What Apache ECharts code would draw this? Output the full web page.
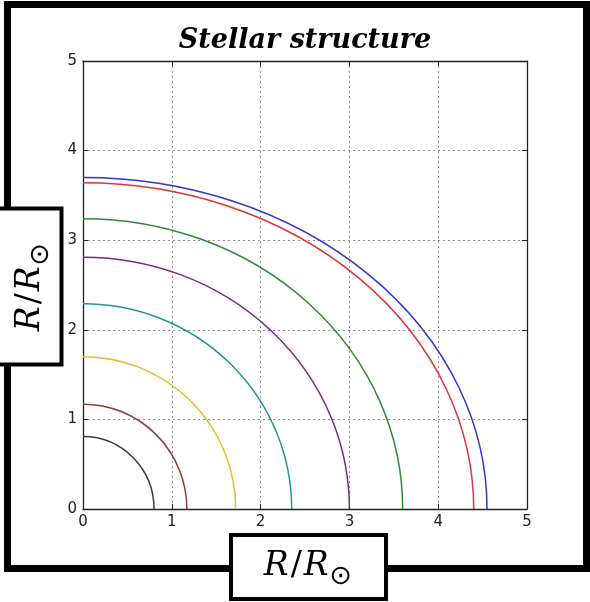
<!DOCTYPE html>
<html>
<head>
<meta charset="utf-8">
<script src="https://cdn.jsdelivr.net/npm/echarts@6/dist/echarts.min.js"></script>
<style>
  html, body { margin: 0; padding: 0; background: #fff; }
  #chart { width: 590px; height: 602px; }
</style>
</head>
<body>
<div id="chart"></div>
<script>
// Quarter-profile of each stellar model: horizontal and vertical radii (R / R_sun)
const xRadii = [4.55, 4.40, 3.60, 3.00, 2.35, 1.72, 1.17, 0.80];
const yRadii = [3.70, 3.64, 3.24, 2.81, 2.29, 1.70, 1.17, 0.81];
const curveColors = ['#3535c8', '#d8353a', '#2f8a38', '#7a2587', '#1d9696', '#f0b62c', '#8b3b3b', '#3a3a3a'];

const axisTicks = [0, 1, 2, 3, 4, 5];
const titleText = 'Stellar structure';

const profiles = xRadii.map((a, i) => [a, yRadii[i], i]);

const chart = echarts.init(document.getElementById('chart'), null, { renderer: 'canvas' });

const tickFont = { fontFamily: 'DejaVu Sans', fontSize: 15, color: '#222' };
const dotted = { show: true, lineStyle: { type: [2, 3], color: '#8f8f8f', width: 1 } };
const frameLine = { show: true, onZero: false, lineStyle: { color: '#222', width: 1.3 } };
const innerTick = { show: true, inside: true, length: 5, lineStyle: { color: '#222', width: 1 } };

// math-style axis label: italic R / R with a solar subscript
const labelRich = {
  r: { font: 'italic 33px "DejaVu Serif", "Liberation Serif", serif', fill: '#000', verticalAlign: 'bottom' },
  sl: { font: '33px "DejaVu Serif", "Liberation Serif", serif', fill: '#000', verticalAlign: 'bottom', padding: [0, 2, 0, 2] },
  s: { font: '27px "DejaVu Sans", sans-serif', fill: '#000', verticalAlign: 'bottom', padding: [0, 0, -8, 1] }
};
const labelText = '{r|R}{sl|/}{r|R}{s|⊙}';

chart.setOption({
  animation: false,
  backgroundColor: '#fff',
  grid: { left: 83, right: 63, top: 61, bottom: 93 },
  xAxis: [
    {
      type: 'value', min: axisTicks[0], max: axisTicks[axisTicks.length - 1], interval: 1,
      position: 'bottom', axisLine: frameLine, axisTick: innerTick,
      axisLabel: Object.assign({ margin: 6 }, tickFont), splitLine: dotted
    },
    {
      type: 'value', min: axisTicks[0], max: axisTicks[axisTicks.length - 1], interval: 1,
      position: 'top', axisLine: frameLine, axisTick: innerTick,
      axisLabel: { show: false }, splitLine: { show: false }
    }
  ],
  yAxis: [
    {
      type: 'value', min: axisTicks[0], max: axisTicks[axisTicks.length - 1], interval: 1,
      position: 'left', axisLine: frameLine, axisTick: innerTick,
      axisLabel: Object.assign({ margin: 6 }, tickFont), splitLine: dotted
    },
    {
      type: 'value', min: axisTicks[0], max: axisTicks[axisTicks.length - 1], interval: 1,
      position: 'right', axisLine: frameLine, axisTick: innerTick,
      axisLabel: { show: false }, splitLine: { show: false }
    }
  ],
  series: [{
    type: 'custom',
    silent: true,
    clip: false,
    data: profiles,
    encode: { x: 0, y: 1 },
    renderItem: function (params, api) {
      const a = api.value(0);
      const b = api.value(1);
      const idx = api.value(2);
      const o = api.coord([0, 0]);
      const pa = api.coord([a, 0]);
      const pb = api.coord([0, b]);
      const rx = pa[0] - o[0];
      const ry = o[1] - pb[1];
      return {
        type: 'path',
        shape: {
          pathData: 'M' + pb[0] + ' ' + pb[1] + ' A' + rx + ' ' + ry + ' 0 0 1 ' + pa[0] + ' ' + pa[1]
        },
        style: { fill: null, stroke: curveColors[idx], lineWidth: 1.5 }
      };
    }
  }],
  graphic: [
    // outer frame
    {
      type: 'rect', z: 100, silent: true,
      shape: { x: 7.5, y: 4.5, width: 579, height: 564 },
      style: { fill: null, stroke: '#000', lineWidth: 7 }
    },
    // title
    {
      type: 'text', z: 101, silent: true, x: 305, y: 41,
      style: {
        text: titleText, textAlign: 'center', textVerticalAlign: 'middle',
        font: 'italic bold 27px "DejaVu Serif", "Liberation Serif", serif', fill: '#000'
      }
    },
    // y-axis label box
    {
      type: 'rect', z: 102, silent: true,
      shape: { x: -10, y: 208.5, width: 71.5, height: 156 },
      style: { fill: '#fff', stroke: '#000', lineWidth: 4 }
    },
    {
      type: 'text', z: 103, silent: true, x: 30, y: 287, rotation: Math.PI / 2,
      style: {
        text: labelText, textAlign: 'center', textVerticalAlign: 'middle', rich: labelRich
      }
    },
    // x-axis label box
    {
      type: 'rect', z: 102, silent: true,
      shape: { x: 231, y: 535, width: 155, height: 64 },
      style: { fill: '#fff', stroke: '#000', lineWidth: 4 }
    },
    {
      type: 'text', z: 103, silent: true, x: 308, y: 566,
      style: {
        text: labelText, textAlign: 'center', textVerticalAlign: 'middle', rich: labelRich
      }
    }
  ]
});
</script>
</body>
</html>
